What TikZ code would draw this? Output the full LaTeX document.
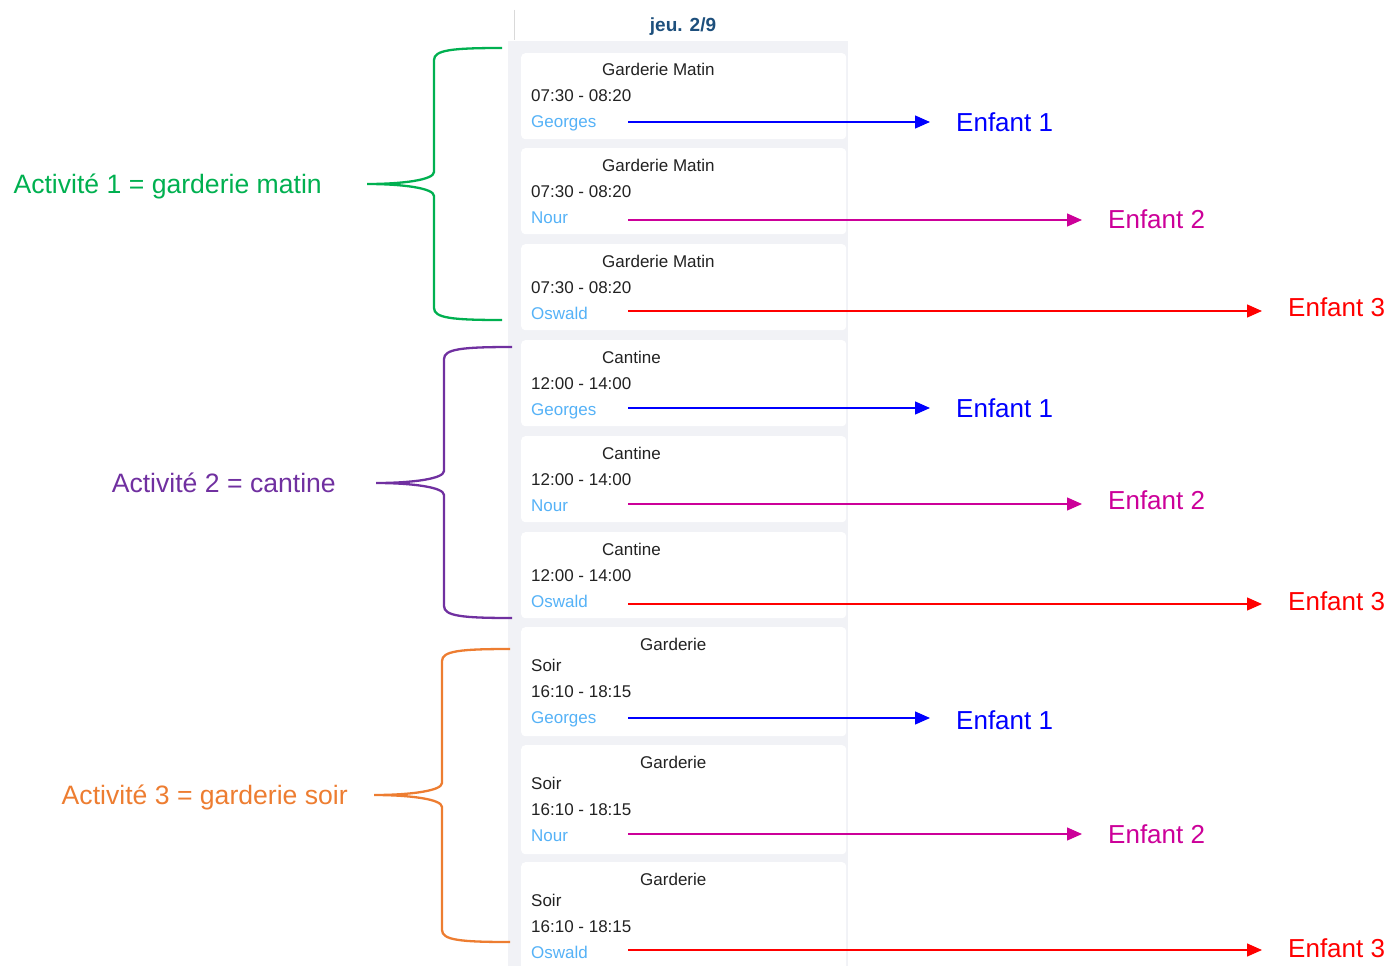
\documentclass[tikz,border=0pt]{standalone}
\usepackage{fontspec}
\setmainfont{Liberation Sans}
\usetikzlibrary{arrows.meta, positioning, calc}
\definecolor{actvert}{HTML}{00B050}
\definecolor{actviolet}{HTML}{7030A0}
\definecolor{actorange}{HTML}{ED7D31}
\definecolor{enf1}{HTML}{0000FF}
\definecolor{enf2}{HTML}{CC0099}
\definecolor{enf3}{HTML}{FF0000}
\definecolor{nomclair}{HTML}{55B2F7}
\definecolor{fondcol}{HTML}{F1F2F6}
\definecolor{texte}{HTML}{222222}
\definecolor{entete}{HTML}{1D4F7C}
\tikzset{
  carte/.style={shape=rectangle, rounded corners=4pt, fill=white, minimum width=325pt, anchor=north west, inner sep=0pt},
  ligne/.style={anchor=west, inner sep=0pt, text=texte, text height=12.2pt, text depth=0pt, font=\fontsize{17}{19}\selectfont},
  nom/.style={ligne, text=nomclair},
  enfant/.style={anchor=west, inner sep=0pt, text height=18.6pt, text depth=0pt, font=\fontsize{26}{30}\selectfont},
  activite/.style={anchor=east, inner sep=0pt, text height=19pt, text depth=0pt, font=\fontsize{26.6}{30}\selectfont},
  fleche/.style={line width=1.3pt, -{Triangle[length=15pt,width=13pt]}, shorten >=26pt},
  accolade/.style={line width=2.3pt}
}

\begin{document}
\begin{tikzpicture}[x=1pt, y=-1pt]
\useasboundingbox (0,0) rectangle (1391,966);
% colonne du jour
\draw[black!15, line width=1pt] (514,10) -- (514,40);
\node[font=\bfseries\fontsize{19}{22}\selectfont, text=entete] (jour) at (683,27) {jeu. 2/9};
\fill[fondcol] (508,41) rectangle (848,966);
\node[carte, minimum height=86pt] (c1) at (521,53) {}; \node[ligne] (t1) at (602,69) {Garderie Matin}; \node[ligne] (h1) at (531,95) {07:30 - 08:20}; \node[nom] (n1) at (531,121) {Georges};
\node[carte, minimum height=86pt] (c2) at (521,148) {}; \node[ligne] (t2) at (602,165) {Garderie Matin}; \node[ligne] (h2) at (531,191) {07:30 - 08:20}; \node[nom] (n2) at (531,217) {Nour};
\node[carte, minimum height=86pt] (c3) at (521,244) {}; \node[ligne] (t3) at (602,261) {Garderie Matin}; \node[ligne] (h3) at (531,287) {07:30 - 08:20}; \node[nom] (n3) at (531,313) {Oswald};
\node[carte, minimum height=86pt] (c4) at (521,340) {}; \node[ligne] (t4) at (602,357) {Cantine}; \node[ligne] (h4) at (531,383) {12:00 - 14:00}; \node[nom] (n4) at (531,409) {Georges};
\node[carte, minimum height=86pt] (c5) at (521,436) {}; \node[ligne] (t5) at (602,453) {Cantine}; \node[ligne] (h5) at (531,479) {12:00 - 14:00}; \node[nom] (n5) at (531,505) {Nour};
\node[carte, minimum height=86pt] (c6) at (521,532) {}; \node[ligne] (t6) at (602,549) {Cantine}; \node[ligne] (h6) at (531,575) {12:00 - 14:00}; \node[nom] (n6) at (531,601) {Oswald};
\node[carte, minimum height=109pt] (c7) at (521,627) {}; \node[ligne] (t7) at (640,644) {Garderie}; \node[ligne] (s7) at (531,665) {Soir}; \node[ligne] (h7) at (531,691) {16:10 - 18:15}; \node[nom] (n7) at (531,717) {Georges};
\node[carte, minimum height=109pt] (c8) at (521,745) {}; \node[ligne] (t8) at (640,762) {Garderie}; \node[ligne] (s8) at (531,783) {Soir}; \node[ligne] (h8) at (531,809) {16:10 - 18:15}; \node[nom] (n8) at (531,835) {Nour};
\node[carte, minimum height=109pt] (c9) at (521,862) {}; \node[ligne] (t9) at (640,879) {Garderie}; \node[ligne] (s9) at (531,900) {Soir}; \node[ligne] (h9) at (531,926) {16:10 - 18:15}; \node[nom] (n9) at (531,952) {Oswald};
% accolades et activites
\draw[accolade, actvert] (502,48) .. controls (452,48) and (434,50) .. (434,60) -- (434,172) .. controls (434,180) and (402,184) .. (367,184) .. controls (402,184) and (434,188) .. (434,196) -- (434,308) .. controls (434,318) and (452,320) .. (502,320);
\draw[accolade, actviolet] (512,347) .. controls (462,347) and (444,349) .. (444,359) -- (444,471) .. controls (444,479) and (411,483) .. (376,483) .. controls (411,483) and (444,487) .. (444,495) -- (444,606) .. controls (444,616) and (462,618) .. (512,618);
\draw[accolade, actorange] (510,649) .. controls (460,649) and (442,651) .. (442,661) -- (442,783) .. controls (442,791) and (409,795) .. (374,795) .. controls (409,795) and (442,799) .. (442,807) -- (442,930) .. controls (442,940) and (460,942) .. (510,942);
\node[activite, text=actvert] (act1) at (322,184) {Activité 1 = garderie matin};
\node[activite, text=actviolet] (act2) at (336,483) {Activité 2 = cantine};
\node[activite, text=actorange] (act3) at (348,795) {Activité 3 = garderie soir};
% enfants
\node[enfant, text=enf1] (e1) at (956,122) {Enfant 1}; \node[enfant, text=enf2] (e2) at (1108,219) {Enfant 2}; \node[enfant, text=enf3] (e3) at (1288,307) {Enfant 3};
\node[enfant, text=enf1] (e4) at (956,408) {Enfant 1}; \node[enfant, text=enf2] (e5) at (1108,500) {Enfant 2}; \node[enfant, text=enf3] (e6) at (1288,601) {Enfant 3};
\node[enfant, text=enf1] (e7) at (956,720) {Enfant 1}; \node[enfant, text=enf2] (e8) at (1108,834) {Enfant 2}; \node[enfant, text=enf3] (e9) at (1288,948) {Enfant 3};
\coordinate (d1) at (628,122); \coordinate (d2) at (628,220); \coordinate (d3) at (628,311);
\coordinate (d4) at (628,408); \coordinate (d5) at (628,504); \coordinate (d6) at (628,604);
\coordinate (d7) at (628,718); \coordinate (d8) at (628,834); \coordinate (d9) at (628,950);
\draw[fleche, enf1] (d1) -- (d1 -| e1.west); \draw[fleche, enf2] (d2) -- (d2 -| e2.west); \draw[fleche, enf3] (d3) -- (d3 -| e3.west);
\draw[fleche, enf1] (d4) -- (d4 -| e4.west); \draw[fleche, enf2] (d5) -- (d5 -| e5.west); \draw[fleche, enf3] (d6) -- (d6 -| e6.west);
\draw[fleche, enf1] (d7) -- (d7 -| e7.west); \draw[fleche, enf2] (d8) -- (d8 -| e8.west); \draw[fleche, enf3] (d9) -- (d9 -| e9.west);
\end{tikzpicture}
\end{document}
